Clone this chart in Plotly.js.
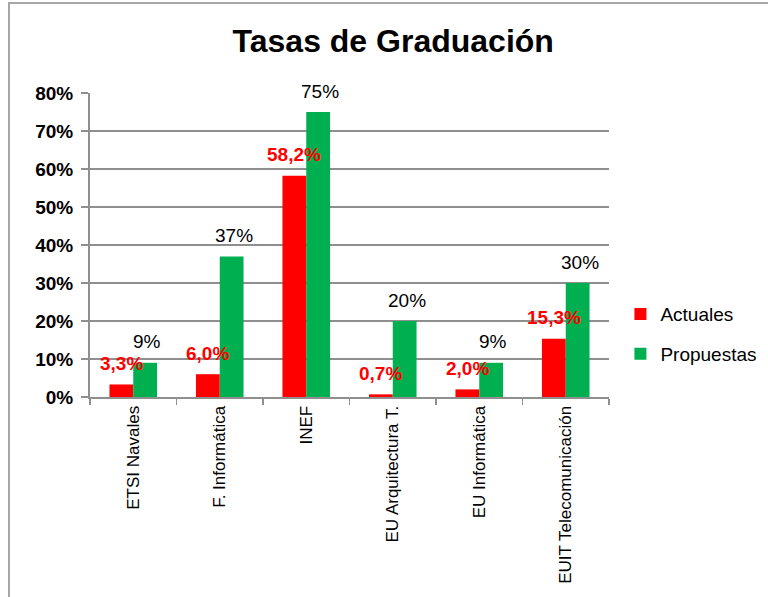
<!DOCTYPE html>
<html><head><meta charset="utf-8">
<script src="https://cdn.plot.ly/plotly-3.0.1.min.js"></script>
<style>
html,body{margin:0;padding:0;background:#fff;overflow:hidden}
#chart{width:768px;height:597px;position:absolute;left:0;top:0}
#frame{position:absolute;left:8px;top:2px;width:770px;height:600px;border-left:2px solid #a6a6a6;border-top:2px solid #a6a6a6;pointer-events:none}
</style></head><body>
<div id="chart"></div><div id="frame"></div>
<script>
const categories = ["ETSI Navales", "F. Informática", "INEF", "EU Arquitectura T.", "EU Informática", "EUIT Telecomunicación"];
const actuales = [3.3, 6.0, 58.2, 0.7, 2.0, 15.3];
const propuestas = [9, 37, 75, 20, 9, 30];
const seriesNames = ["Actuales", "Propuestas"];
const yTickVals = [0, 10, 20, 30, 40, 50, 60, 70, 80];
const yTickText = ["0%", "10%", "20%", "30%", "40%", "50%", "60%", "70%", "80%"];

const RED = "#FF0000", GREEN = "#00B050", GRID = "#8f8f8f";
const FONT = "Liberation Sans, Arial, sans-serif";

const traces = [
  {type: "bar", name: seriesNames[0], x: categories, y: actuales, marker: {color: RED}, legendgroup: "a", hoverinfo: "none"},
  {type: "bar", name: seriesNames[1], x: categories, y: propuestas, marker: {color: GREEN}, legendgroup: "b", hoverinfo: "none"}
];

const fmtA = v => v.toFixed(1).replace(".", ",") + "%";
const annotations = [];
categories.forEach((c, i) => {
  annotations.push({x: c, y: actuales[i], xref: "x", yref: "y", xshift: -12, yshift: 21, yanchor: "middle",
    text: fmtA(actuales[i]), showarrow: false, font: {family: FONT, size: 19, color: RED, weight: "bold"}});
  annotations.push({x: c, y: propuestas[i], xref: "x", yref: "y", xshift: 14, yshift: 21, yanchor: "middle",
    text: propuestas[i] + "%", showarrow: false, font: {family: FONT, size: 19, color: "#000"}});
});

const layout = {
  width: 768, height: 597,
  margin: {l: 90, r: 159, t: 93, b: 200, pad: 0, autoexpand: false},
  paper_bgcolor: "rgba(0,0,0,0)", plot_bgcolor: "rgba(0,0,0,0)",
  font: {family: FONT, color: "#000"},
  title: {text: "Tasas de Graduación", x: 0.512, xref: "container", xanchor: "center",
    y: 1 - 41 / 597, yref: "container", yanchor: "middle",
    font: {family: FONT, size: 32, weight: "bold", color: "#000"}},
  barmode: "group", bargap: 0.45, bargroupgap: 0,
  xaxis: {type: "category", showline: true, linecolor: GRID, linewidth: 2,
    ticks: "outside", tickson: "boundaries", ticklen: 6, tickcolor: GRID, tickwidth: 1.5,
    tickangle: -90, tickfont: {family: FONT, size: 17, color: "#000"}, showgrid: false, zeroline: false,
    fixedrange: true},
  yaxis: {range: [0, 80], tickvals: yTickVals, ticktext: yTickText, showline: true, linecolor: GRID, linewidth: 2,
    ticks: "outside", ticklen: 7, tickcolor: GRID, tickwidth: 1.5, ticklabelstandoff: 4,
    showgrid: true, gridcolor: GRID, gridwidth: 2, zeroline: false,
    tickfont: {family: FONT, size: 19, weight: "bold", color: "#000"}, fixedrange: true},
  showlegend: true,
  legend: {x: 1.022, xanchor: "left", y: 0.335, yanchor: "top", traceorder: "grouped", tracegroupgap: 12,
    font: {family: FONT, size: 19, color: "#000"}, bgcolor: "rgba(0,0,0,0)"},
  annotations: annotations
};

Plotly.newPlot("chart", traces, layout, {displayModeBar: false, staticPlot: true});
</script>
</body></html>
